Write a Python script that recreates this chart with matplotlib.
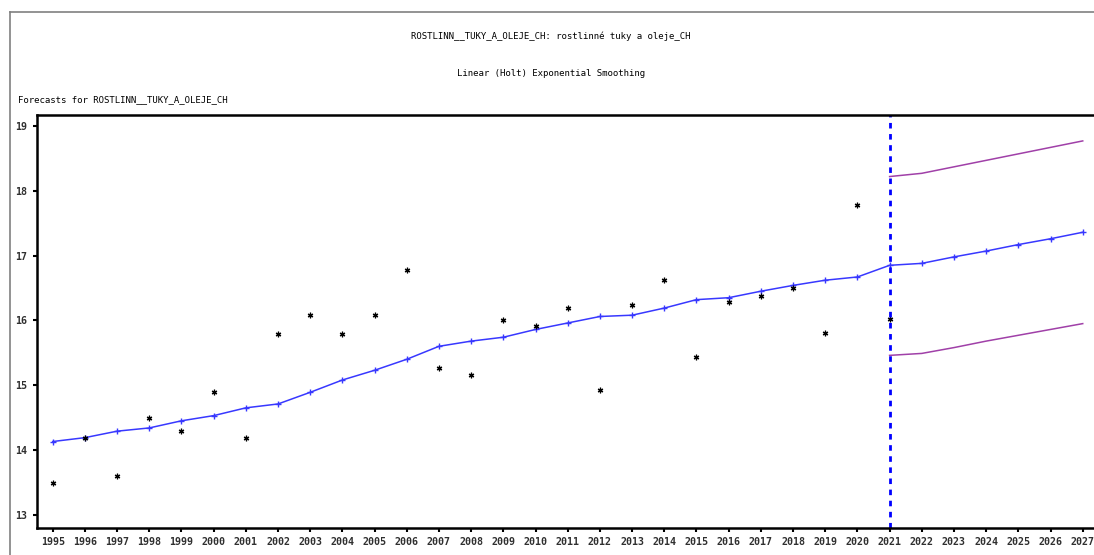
#!/usr/bin/env python3

from matplotlib import pyplot as plt
from matplotlib.lines import Line2D

years = list(range(1995, 2022))
actual = [13.49, 14.19, 13.60, 14.49, 14.29, 14.89, 14.19, 15.79, 16.09, 15.79,
          16.09, 16.78, 15.26, 15.16, 16.00, 15.92, 16.19, 14.93, 16.24, 16.62,
          15.43, 16.29, 16.37, 16.50, 15.80, 17.78, 16.02]

fit_years = list(range(1995, 2028))
fitted = [14.13, 14.19, 14.29, 14.34, 14.45, 14.53, 14.65, 14.71, 14.89, 15.08,
          15.23, 15.40, 15.60, 15.68, 15.74, 15.86, 15.96, 16.06, 16.08, 16.19,
          16.32, 16.35, 16.45, 16.54, 16.62, 16.67, 16.85, 16.88, 16.98, 17.07,
          17.17, 17.26, 17.36]

band_years = list(range(2021, 2028))
upper = [18.22, 18.27, 18.37, 18.47, 18.57, 18.67, 18.77]
lower = [15.46, 15.49, 15.58, 15.68, 15.77, 15.86, 15.95]

forecast_start = 2021
y_ticks = [13, 14, 15, 16, 17, 18, 19]


def main() -> None:
    plt.rcParams['font.family'] = 'DejaVu Sans Mono'
    fig = plt.figure(figsize=(10.94, 5.55), dpi=100)
    W, H = 1094, 555

    # grey outer frame
    fig.add_artist(Line2D([10 / W, 1.0], [1 - 12 / H, 1 - 12 / H],
                          transform=fig.transFigure, color='#808080', lw=1.2))
    fig.add_artist(Line2D([10 / W, 10 / W], [0, 1 - 12 / H],
                          transform=fig.transFigure, color='#808080', lw=1.2))

    fig.text(551 / W, 1 - 36 / H,
             'ROSTLINN__TUKY_A_OLEJE_CH: rostlinné tuky a oleje_CH',
             ha='center', va='center', fontsize=6.5)
    fig.text(551 / W, 1 - 73 / H, 'Linear (Holt) Exponential Smoothing',
             ha='center', va='center', fontsize=6.5)
    fig.text(18 / W, 1 - 100 / H, 'Forecasts for ROSTLINN__TUKY_A_OLEJE_CH',
             ha='left', va='center', fontsize=6.5)

    ax = fig.add_axes([37.3 / W, 1 - 527.7 / H, (W - 37.3) / W, (527.7 - 115) / H])

    ax.plot(band_years, upper, color='#a040a8', lw=1.1)
    ax.plot(band_years, lower, color='#a040a8', lw=1.1)
    ax.plot(fit_years, fitted, color='#3838ff', lw=1.1, marker='+', ms=5, mew=1)
    ax.plot(years, actual, linestyle='none', marker=(6, 2, 0), ms=4,
            mew=0.9, color='black')
    ax.axvline(forecast_start, color='#0000ff', lw=2, linestyle=(0, (2, 2)))

    ax.set_xlim(1994.52, 2027.35)
    ax.set_ylim(12.80, 19.17)
    ax.set_xticks(fit_years)
    ax.set_xticklabels([str(y) for y in fit_years], fontsize=7.2,
                       fontweight='bold', color='#303030')
    ax.set_yticks(y_ticks)
    ax.set_yticklabels([str(v) for v in y_ticks], fontsize=7.2,
                       fontweight='bold', color='#303030')
    ax.tick_params(axis='both', direction='out', length=3, width=1.5, pad=4)

    for side in ['top', 'left', 'bottom']:
        ax.spines[side].set_linewidth(1.8)
    ax.spines['right'].set_visible(False)

    fig.savefig('out.png', dpi=100)


if __name__ == '__main__':
    main()
